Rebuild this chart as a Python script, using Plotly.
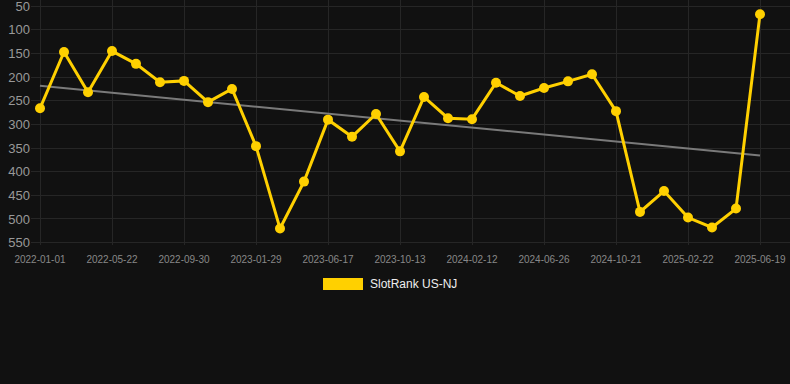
import numpy as np
import plotly.graph_objects as go

dates = [
    "2022-01-01", "2022-02-17", "2022-04-05", "2022-05-22", "2022-07-05", "2022-08-17",
    "2022-09-30", "2022-11-09", "2022-12-19", "2023-01-29", "2023-03-16", "2023-05-01",
    "2023-06-17", "2023-07-26", "2023-09-03", "2023-10-13", "2023-11-22", "2024-01-02",
    "2024-02-12", "2024-03-27", "2024-05-11", "2024-06-26", "2024-08-04", "2024-09-12",
    "2024-10-21", "2024-12-01", "2025-01-11", "2025-02-22", "2025-04-01", "2025-05-10",
    "2025-06-19",
]
ranks = [
    266, 147, 232, 145, 172, 211, 208, 253, 225, 346, 520,
    421, 290, 326, 278, 357, 242, 287, 289, 212, 240,
    223, 209, 194, 272, 485, 441, 497, 518, 478, 67,
]
tick_labels = dates[::3]
y_ticks = [50, 100, 150, 200, 250, 300, 350, 400, 450, 500, 550]
series_name = "SlotRank US-NJ"

idx = np.arange(len(ranks))
slope, intercept = np.polyfit(idx, ranks, 1)
trend = [intercept, intercept + slope * idx[-1]]

gold = "#FFD000"

fig = go.Figure()
fig.add_trace(go.Scatter(
    x=[dates[0], dates[-1]], y=trend, mode="lines",
    line=dict(color="#7a7a7a", width=2), showlegend=False, hoverinfo="skip",
))
fig.add_trace(go.Scatter(
    x=dates, y=ranks, mode="lines+markers", name=series_name,
    line=dict(color=gold, width=3),
    marker=dict(color=gold, size=10),
    showlegend=False,
))

fig.add_shape(type="rect", xref="paper", yref="paper",
              x0=(323 - 31) / 759, x1=(363 - 31) / 759,
              y0=-(278 - 245) / 245, y1=-(290 - 245) / 245,
              fillcolor=gold, line=dict(width=0))
fig.add_annotation(text=series_name, xref="paper", yref="paper",
                   x=(368 - 31) / 759, y=-(284 - 245) / 245,
                   xanchor="left", yanchor="middle", showarrow=False,
                   font=dict(color="#eeeeee", size=12, family="Arial, Liberation Sans, sans-serif"))

fig.update_layout(
    width=790, height=384,
    paper_bgcolor="#111111", plot_bgcolor="#111111",
    margin=dict(l=31, r=0, t=0, b=139),
    font=dict(family="Arial, Liberation Sans, sans-serif"),
    showlegend=False,
    xaxis=dict(
        type="category", categoryorder="array", categoryarray=dates,
        range=[-0.375, 31.25],
        tickvals=tick_labels, ticktext=tick_labels,
        tickfont=dict(color="#888888", size=10),
        gridcolor="#262626", showline=False, zeroline=False,
        ticks="", tickangle=0, ticklabelstandoff=7,
    ),
    yaxis=dict(
        range=[555, 37],
        tickvals=y_ticks,
        tickfont=dict(color="#999999", size=13),
        gridcolor="#262626", zeroline=False, showline=False,
        ticks="", ticklabeloverflow="allow",
    ),
)

fig.write_html(
    "out.html",
    config={"displayModeBar": False},
    post_script="document.body.style.margin='0';document.body.style.background='#111111';",
)
